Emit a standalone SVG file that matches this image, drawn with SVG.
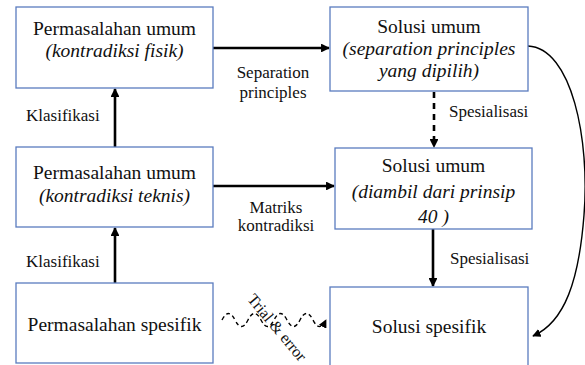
<svg xmlns="http://www.w3.org/2000/svg" width="585" height="365" viewBox="0 0 585 365">
<style>
.box{fill:#fff;stroke:#5a7cbf;stroke-width:1.3}
.t{font-family:'Liberation Serif','Times New Roman','DejaVu Serif',serif;font-size:19.5px;fill:#111;text-anchor:middle}
.i{font-style:italic}
.lb{font-family:'Liberation Serif','Times New Roman','DejaVu Serif',serif;font-size:17px;fill:#111}
.c{text-anchor:middle}
.thick{stroke:#000;stroke-width:2.6;fill:none}
.thin{stroke:#000;stroke-width:1.4;fill:none}
</style>
<defs>
<marker id="ah" viewBox="0 0 10 10" refX="9" refY="5" markerWidth="3.4" markerHeight="3.4" orient="auto" markerUnits="strokeWidth">
<path d="M0,0 L10,5 L0,10 z" fill="#000"/>
</marker>
<marker id="ahs" viewBox="0 0 10 10" refX="9" refY="5" markerWidth="6" markerHeight="6" orient="auto" markerUnits="strokeWidth">
<path d="M0,0 L10,5 L0,10 z" fill="#000"/>
</marker>
</defs>
<rect width="585" height="365" fill="#fff"/>
<g id="connectors">
<line class="thick" x1="213" y1="48" x2="329" y2="48" marker-end="url(#ah)"/>
<line class="thick" x1="213" y1="186" x2="334" y2="186" marker-end="url(#ah)"/>
<line class="thick" x1="115" y1="147" x2="115" y2="89" marker-end="url(#ah)"/>
<line class="thick" x1="115" y1="283" x2="115" y2="228" marker-end="url(#ah)"/>
<line class="thick" x1="434" y1="92" x2="434" y2="147" stroke-dasharray="6 5" marker-end="url(#ah)"/>
<line class="thick" x1="433" y1="229" x2="433" y2="286" marker-end="url(#ah)"/>
<path class="thin" d="M528,46 C572,48 590,140 584,215 C579,280 565,322 533,336" marker-end="url(#ahs)"/>
<path class="thin" stroke="#333" stroke-dasharray="4 3" d="M222,320 q6.5,-13 13,0 t13,0 t13,0 t13,0 t13,0 t13,0 t13,0 t13,0" marker-end="url(#ahs)"/>
<text class="lb c" x="273" y="78">Separation</text>
<text class="lb c" x="273" y="98">principles</text>
<text class="lb c" x="276" y="213">Matriks</text>
<text class="lb c" x="276" y="231">kontradiksi</text>
<text class="lb" x="26" y="121">Klasifikasi</text>
<text class="lb" x="26" y="267">Klasifikasi</text>
<text class="lb" x="449" y="117">Spesialisasi</text>
<text class="lb" x="450" y="264">Spesialisasi</text>
<text class="lb c" style="font-size:16px" transform="translate(273,331) rotate(50)">Trial &amp; error</text>
</g>
<g id="n1">
<rect class="box" x="16" y="7" width="197" height="81"/>
<text class="t" x="114.5" y="35">Permasalahan umum</text>
<text class="t i" x="114.5" y="57">(kontradiksi fisik)</text>
</g>
<g id="n2">
<rect class="box" x="330" y="7" width="198" height="84"/>
<text class="t" x="429" y="33">Solusi umum</text>
<text class="t i" x="429" y="55">(separation principles</text>
<text class="t i" x="429" y="77">yang dipilih)</text>
</g>
<g id="n3">
<rect class="box" x="16" y="147" width="197" height="80"/>
<text class="t" x="114.5" y="179">Permasalahan umum</text>
<text class="t i" x="114.5" y="202">(kontradiksi teknis)</text>
</g>
<g id="n4">
<rect class="box" x="335" y="148" width="197" height="81"/>
<text class="t" x="433.5" y="172">Solusi umum</text>
<text class="t i" x="433.5" y="198">(diambil dari prinsip</text>
<text class="t i" x="433.5" y="223">40 )</text>
</g>
<g id="n5">
<rect class="box" x="16" y="283" width="197" height="80"/>
<text class="t" x="114.5" y="331">Permasalahan spesifik</text>
</g>
<g id="n6">
<rect class="box" x="330" y="287" width="198" height="90"/>
<text class="t" x="429" y="333">Solusi spesifik</text>
</g>
</svg>
